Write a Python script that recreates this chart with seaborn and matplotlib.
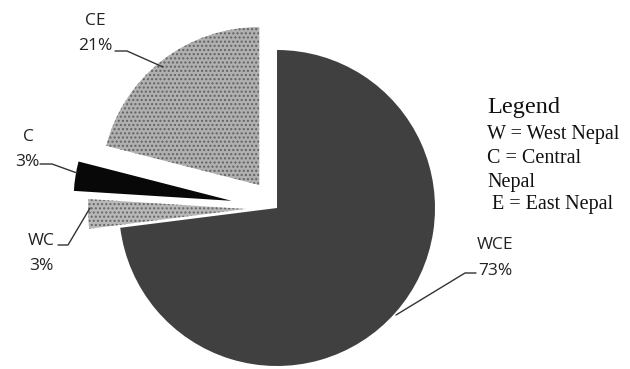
import matplotlib
matplotlib.use("Agg")
import matplotlib.pyplot as plt
import seaborn as sns

sns.set_theme(style="white")
plt.rcParams['font.family'] = ['Open Sans', 'DejaVu Sans']

# data
categories = ["WCE", "WC", "C", "CE"]
shares = [73, 3, 3, 21]
legend_title = "Legend"
legend_lines = ["W = West Nepal", "C = Central", "Nepal", " E = East Nepal"]

W, H = 630, 369
fig = plt.figure(figsize=(6.3, 3.69), dpi=100)
ax = fig.add_axes([0, 0, 1, 1])

def Y(y):
    return H - y

center = (277, Y(208))
radius = 158
explode = [0, 31, 46, 29]
faces = ["#404040", "#b8b8b8", "#080808", "#b0b0b0"]
hatches = [None, "....", None, "...."]
edges = ["#404040", "#666666", "#080808", "#626262"]

wedges, _ = ax.pie(shares, explode=explode, startangle=90, counterclock=False,
                   center=center, radius=radius, colors=faces,
                   wedgeprops=dict(linewidth=0))
for w, h, e in zip(wedges, hatches, edges):
    w.set_edgecolor(e)
    if h:
        w.set_hatch(h)
    w.set_linewidth(0)

ax.set_xlim(0, W)
ax.set_ylim(0, H)
ax.set_aspect('equal', adjustable='datalim')
ax.axis('off')

fs = 12.5
lab = dict(fontsize=fs, color="#222222", ha="center", va="baseline")
lc = dict(color="#333333", lw=1)
# CE
ax.text(95, Y(25), categories[3], **lab)
ax.text(95, Y(50), f"{shares[3]}%", **lab)
ax.plot([115, 127, 163], [Y(51), Y(51), Y(67)], **lc)
# C
ax.text(28, Y(141), categories[2], **lab)
ax.text(27, Y(166), f"{shares[2]}%", **lab)
ax.plot([40, 52, 77], [Y(164), Y(164), Y(173)], **lc)
# WC
ax.text(41, Y(245), categories[1], **lab)
ax.text(41, Y(270), f"{shares[1]}%", **lab)
ax.plot([58, 68, 90], [Y(245), Y(245), Y(208)], **lc)
# WCE
ax.text(495, Y(249), categories[0], **lab)
ax.text(495, Y(275), f"{shares[0]}%", **lab)
ax.plot([476, 465, 396], [Y(273), Y(273), Y(315)], **lc)

# legend text
ax.text(487, Y(113), legend_title, fontsize=17.5, family="Liberation Serif",
        color="#111111", ha="left", va="baseline")
ys = [139, 163, 187, 209]
for t, yy in zip(legend_lines, ys):
    ax.text(487, Y(yy), t, fontsize=14.5, family="Liberation Serif",
            color="#111111", ha="left", va="baseline")

fig.savefig("out.png", dpi=100)
